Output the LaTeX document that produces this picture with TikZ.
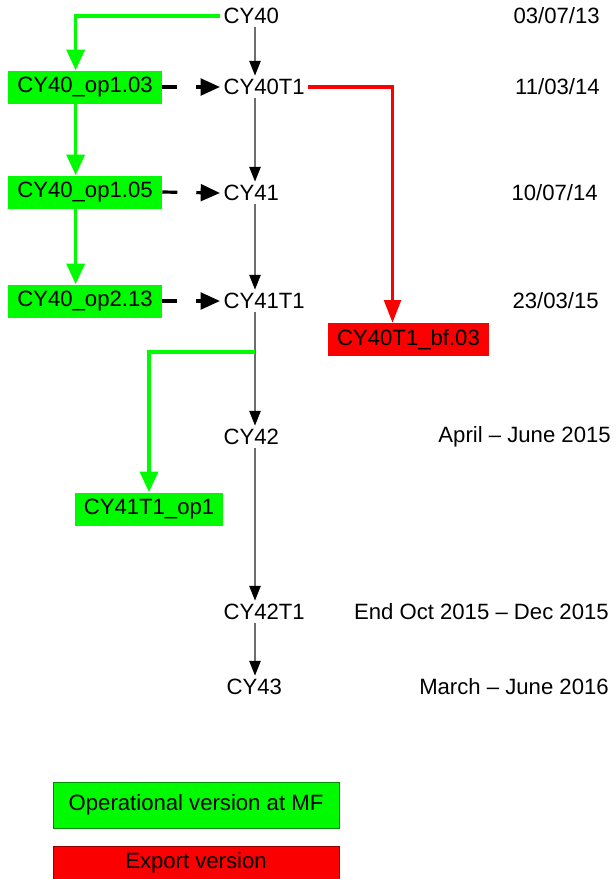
\documentclass[tikz,border=0pt]{standalone}
\usepackage{fontspec}
\setmainfont{Liberation Sans}
\usetikzlibrary{arrows.meta}
\definecolor{opgreen}{RGB}{0,250,0}
\definecolor{expred}{RGB}{250,0,0}
\definecolor{spinegray}{RGB}{110,110,110}
\begin{document}
\begin{tikzpicture}[x=0.75pt,y=-0.75pt,
    every node/.style={font=\fontsize{16.6}{19}\selectfont},
    ver/.style={anchor=west, inner sep=2.5pt},
    date/.style={anchor=east, inner sep=0pt},
    opbox/.style={fill=opgreen, inner sep=0pt, minimum height=24.75pt},
    bfbox/.style={fill=expred, inner sep=0pt, minimum height=24.75pt},
    tl/.style={spinegray, line width=1.1pt, -{Triangle[length=11pt,width=8.5pt,color=black,fill=black]}},
    dl/.style={black, line width=2.4pt, dash pattern=on 11.25pt off 14.25pt, -{Triangle[length=14.5pt,width=12.5pt]}},
    gl/.style={opgreen, line width=2.7pt, -{Triangle[length=15.5pt,width=13.5pt]}},
    rl/.style={expred, line width=2.4pt, -{Triangle[length=17pt,width=12.5pt]}}]
    \useasboundingbox (0,0) rectangle (616,879);
    \coordinate (spine) at (255,0);
    \node[ver] (cy40) at (220,16) {CY40};
    \node[ver] (cy40t1) at (220,87) {CY40T1};
    \node[ver] (cy41) at (220,193) {CY41};
    \node[ver] (cy41t1) at (220,301) {CY41T1};
    \node[ver] (cy42) at (220,437) {CY42};
    \node[ver] (cy42t1) at (220,612) {CY42T1};
    \node[ver] (cy43) at (223,687) {CY43};
    \node[date] (d40) at (600,16) {03/07/13};
    \node[date] (d40t1) at (600,87) {11/03/14};
    \node[date] (d41) at (598,193) {10/07/14};
    \node[date] (d41t1) at (599,301) {23/03/15};
    \node[date] (d42) at (611,437) {April -- June 2015};
    \node[date] (d42t1) at (609,612) {End Oct 2015 -- Dec 2015};
    \node[date] (d43) at (609,687) {March -- June 2016};
    \node[opbox, minimum width=115.5pt] (op103) at (85,87) {CY40\_op1.03};
    \node[opbox, minimum width=115.5pt] (op105) at (85,192) {CY40\_op1.05};
    \node[opbox, minimum width=115.5pt] (op213) at (85,301) {CY40\_op2.13};
    \node[opbox, minimum width=111pt] (op1) at (149,509) {CY41T1\_op1};
    \node[bfbox, minimum width=120.75pt] (bf03) at (408.5,339.5) {CY40T1\_bf.03};
    \coordinate (split) at (255,352);
    \draw[tl] (cy40.south -| spine) -- (cy40t1.north -| spine);
    \draw[tl] (cy40t1.south -| spine) -- (cy41.north -| spine);
    \draw[tl] (cy41.south -| spine) -- (cy41t1.north -| spine);
    \draw[tl] (cy41t1.south -| spine) -- (cy42.north -| spine);
    \draw[tl] (cy42.south -| spine) -- (cy42t1.north -| spine);
    \draw[tl] (cy42t1.south -| spine) -- (cy43.north -| spine);
    \draw[dl] (op103.east) -- (cy40t1.west);
    \draw[dl] (op105.east) -- (cy41.west);
    \draw[dl] (op213.east) -- (cy41t1.west);
    \draw[gl] (cy40.west) -| ([xshift=-7]op103.north);
    \draw[gl] ([xshift=-7]op103.south) -- ([xshift=-7]op105.north);
    \draw[gl] ([xshift=-7]op105.south) -- ([xshift=-7]op213.north);
    \draw[gl] (split) -| (op1.north);
    \draw[rl] (cy40t1.east) -| ([xshift=-12]bf03.north);
    \node[opbox, draw=green!55!black, line width=0.4pt, minimum width=214.5pt, minimum height=34.5pt] (legop) at (196,805) {Operational version at MF};
    \node[bfbox, draw=red!60!black, line width=0.4pt, minimum width=214.5pt, minimum height=24.75pt] (legbf) at (196,862.5) {Export version};
\end{tikzpicture}
\end{document}
